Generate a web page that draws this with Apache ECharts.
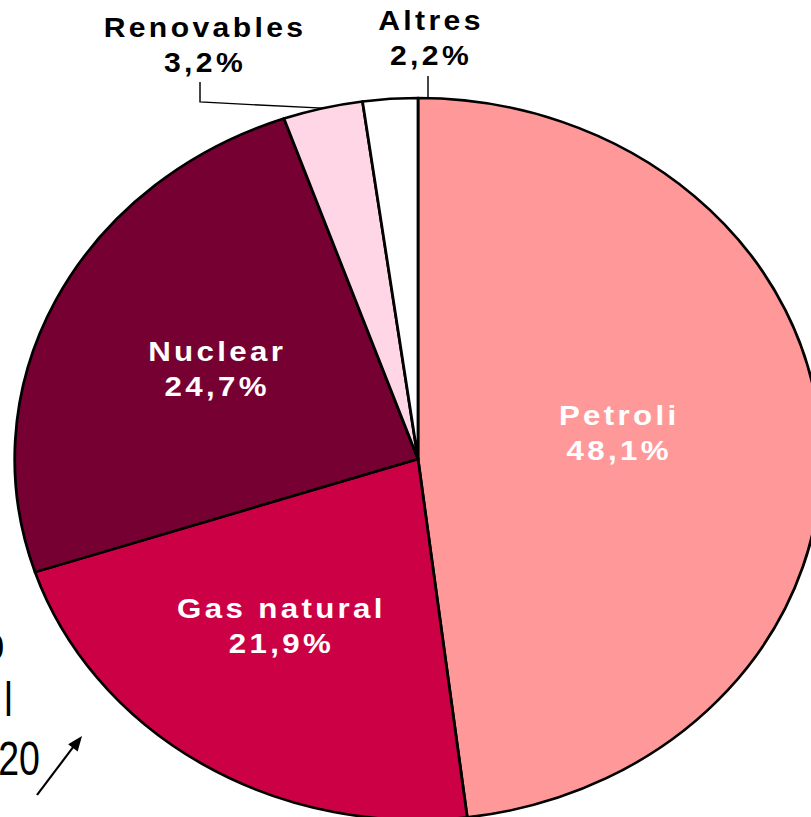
<!DOCTYPE html>
<html>
<head>
<meta charset="utf-8">
<script src="https://cdn.jsdelivr.net/npm/echarts@6/dist/echarts.min.js"></script>
<style>
  html, body { margin: 0; padding: 0; background: #fff; overflow: hidden; }
  #wrap { width: 811px; height: 817px; overflow: hidden; position: relative; }
  /* the original pie is stretched sideways, so the whole chart is scaled in x */
  #chart { width: 726px; height: 817px; transform: scaleX(1.1171); transform-origin: 0 0; }
  #chart text[text-anchor="middle"] { letter-spacing: 3px; }
</style>
</head>
<body>
<div id="wrap"><div id="chart"></div></div>
<script>
const categories = ['Petroli', 'Gas natural', 'Nuclear', 'Renovables', 'Altres']
const shares = [48.1, 21.9, 24.7, 3.2, 2.2]
const colors = ['#ff9999', '#cc0044', '#770033', '#ffd6e6', '#ffffff']
// partly cut text at the left edge of the original slide
const sideTexts = ['o', 'l', '20']

const S = 811 / 726
const px = x => x / S

// nudges for the inside labels, in chart pixels
const insideShift = [[-3, -15], [-24, 12], [-15, -9]]

const fmt = v => v.toFixed(1).replace('.', ',') + '%'

const seriesData = categories.map((name, i) => {
  const item = { name: name, value: shares[i], itemStyle: { color: colors[i] } }
  if (i < 3) {
    item.label = { position: 'inside', color: '#fff', fontSize: 28 }
  } else {
    item.label = { position: 'outside', color: '#000', fontSize: 27 }
    item.labelLine = { show: true, lineStyle: { color: '#000', width: 1.3 } }
  }
  return item
})

// arrow in screen pixels
const arrowFrom = [37, 795]
const arrowTo = [82, 736]
function arrowHead() {
  const dx = arrowTo[0] - arrowFrom[0]
  const dy = arrowTo[1] - arrowFrom[1]
  const len = Math.sqrt(dx * dx + dy * dy)
  const ux = dx / len
  const uy = dy / len
  const bx = arrowTo[0] - ux * 15
  const by = arrowTo[1] - uy * 15
  return [
    [px(arrowTo[0]), arrowTo[1]],
    [px(bx - uy * 6), by + ux * 6],
    [px(bx + uy * 6), by - ux * 6]
  ]
}

const sideScale = 0.7
function sideText(text, x, y) {
  return {
    type: 'text', x: px(x), y: y, scaleX: sideScale,
    style: { text: text, align: 'right', verticalAlign: 'middle', font: '48px Liberation Sans', fill: '#000' }
  }
}

const chart = echarts.init(document.getElementById('chart'), null, { renderer: 'svg' })

const option = {
  backgroundColor: '#fff',
  animation: false,
  textStyle: { fontFamily: 'Liberation Sans, Arial, sans-serif' },
  graphic: [
    sideText(sideTexts[0], 4.5, 643),
    sideText(sideTexts[1], 12.5, 699),
    sideText(sideTexts[2], 40, 758),
    {
      type: 'line',
      shape: { x1: px(arrowFrom[0]), y1: arrowFrom[1], x2: px(arrowTo[0] - 5), y2: arrowTo[1] + 6 },
      style: { stroke: '#000', lineWidth: 2 }
    },
    { type: 'polygon', shape: { points: arrowHead() }, style: { fill: '#000' } }
  ],
  series: [{
    type: 'pie',
    center: [px(418), 459],
    radius: 361,
    startAngle: 90,
    clockwise: true,
    avoidLabelOverlap: false,
    itemStyle: { borderColor: '#000', borderWidth: 2.5 },
    label: {
      fontWeight: 'bold',
      fontFamily: 'Liberation Sans, Arial, sans-serif',
      lineHeight: 35,
      formatter: p => p.name + '\n' + fmt(p.value)
    },
    labelLayout: function (params) {
      const i = params.dataIndex
      if (i < 3) {
        return { dx: insideShift[i][0], dy: insideShift[i][1] }
      }
      if (i === 3) {
        const p0 = params.labelLinePoints ? params.labelLinePoints[0] : [px(318), 106]
        return {
          x: px(205), y: 45, align: 'center', verticalAlign: 'middle',
          labelLinePoints: [p0, [px(200), 102], [px(200), 82]]
        }
      }
      return {
        x: px(431), y: 38, align: 'center', verticalAlign: 'middle',
        labelLinePoints: [[px(428), 97], [px(428), 87], [px(428), 76]]
      }
    },
    emphasis: { disabled: true },
    data: seriesData
  }]
}

chart.setOption(option)
</script>
</body>
</html>
